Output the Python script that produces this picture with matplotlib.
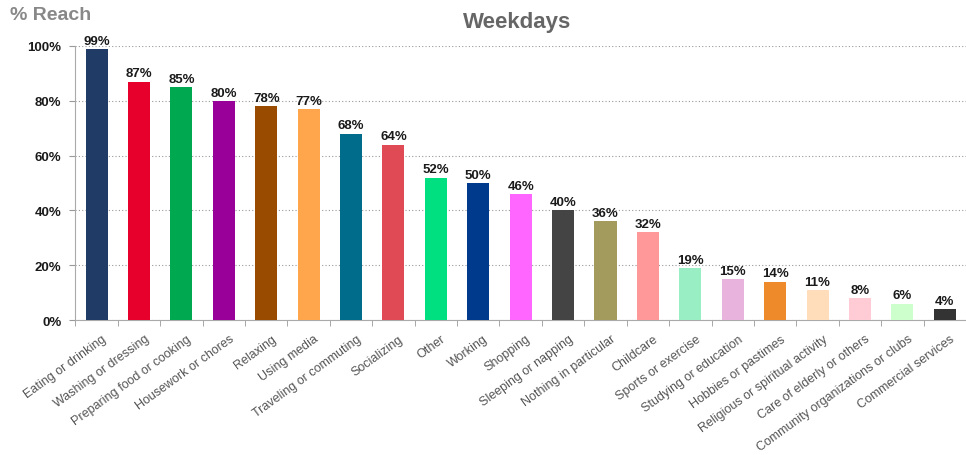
import numpy as np
import matplotlib.pyplot as plt
from matplotlib.ticker import FixedLocator

plt.rcParams["font.family"] = ["Liberation Sans", "DejaVu Sans"]

activities = ["Eating or drinking", "Washing or dressing", "Preparing food or cooking",
              "Housework or chores", "Relaxing", "Using media", "Traveling or commuting",
              "Socializing", "Other", "Working", "Shopping", "Sleeping or napping",
              "Nothing in particular", "Childcare", "Sports or exercise",
              "Studying or education", "Hobbies or pastimes",
              "Religious or spiritual activity", "Care of elderly or others",
              "Community organizations or clubs", "Commercial services"]
reach = [99, 87, 85, 80, 78, 77, 68, 64, 52, 50, 46, 40, 36, 32, 19, 15, 14, 11, 8, 6, 4]
bar_colors = ["#1F3B66", "#E8002D", "#00A94F", "#990099", "#994C00", "#FFA64D",
              "#006C8C", "#E04A55", "#00E080", "#003A8C", "#FF66FF", "#444444",
              "#A39B5E", "#FF9999", "#99EEC4", "#E8B3DD", "#EE8A2A", "#FFDDBB",
              "#FFCCD5", "#CCFFCC", "#333333"]

fig = plt.figure(figsize=(9.66, 4.56), dpi=100)
ax = fig.add_axes([0.078, 0.296, 0.922, 0.601])

x = np.arange(len(activities))
ax.bar(x, reach, width=0.52, color=bar_colors, zorder=3)
for xi, v in zip(x, reach):
    ax.text(xi, v + 0.8, "{}%".format(v), ha="center", va="bottom",
            fontsize=9.5, fontweight="bold", color="#1a1a1a", zorder=4)

ax.set_xlim(-0.5, len(activities) - 0.5)
ax.set_ylim(0, 100)
ax.set_yticks(range(0, 101, 20))
ax.set_yticklabels(["{}%".format(t) for t in range(0, 101, 20)],
                   fontsize=9.5, fontweight="bold", color="#1a1a1a")
ax.yaxis.grid(True, linestyle=(0, (1, 2)), color="#999999", linewidth=0.8, zorder=0)
ax.tick_params(axis="y", length=4, color="#999999", pad=6)

ax.set_xticks(x + 0.12)
ax.set_xticklabels(activities, rotation=36, ha="right", rotation_mode="anchor",
                   fontsize=9, color="#555555")
ax.tick_params(axis="x", which="major", length=0, pad=9)
ax.xaxis.set_minor_locator(FixedLocator(np.arange(-0.5, len(activities), 1.0)))
ax.tick_params(axis="x", which="minor", length=4, color="#999999")

for s in ["top", "right"]:
    ax.spines[s].set_visible(False)
ax.spines["left"].set_color("#aaaaaa")
ax.spines["bottom"].set_color("#aaaaaa")

fig.text(0.535, 0.95, "Weekdays", ha="center", va="center",
         fontsize=16, fontweight="bold", color="#666666")
fig.text(0.01, 0.965, "% Reach", ha="left", va="center",
         fontsize=14, fontweight="bold", color="#888888")

fig.savefig("out.png", dpi=100)
